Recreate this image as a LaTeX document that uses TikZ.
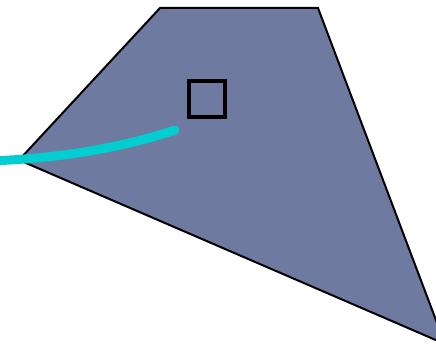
\documentclass[tikz,border=0pt]{standalone}
\usepackage{tikz}
\definecolor{slab}{RGB}{111,122,160}
\definecolor{wire}{RGB}{0,206,209}

\begin{document}
\begin{tikzpicture}[x=1pt,y=-1pt]
  \useasboundingbox (0,0) rectangle (436,347);
  \clip (0,0) rectangle (436,347);
  \draw[line width=2pt,fill=slab,line join=miter] (160,8) -- (318,8) -- (445,344) -- (19,160) -- cycle;
  \draw[line width=4pt] (189,81) rectangle (225,117);
  \draw[wire,line width=9pt,line cap=round] (-10,161) .. controls (70,158) and (130,145) .. (175,130);
\end{tikzpicture}
\end{document}
